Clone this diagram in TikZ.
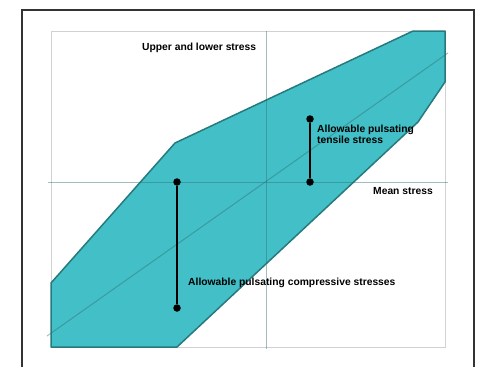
\documentclass[tikz,border=0pt]{standalone}
\usepackage{fontspec}
\setmainfont{Liberation Sans}
\usepackage{xcolor}
\usepackage{tikz}

\definecolor{bandfill}{RGB}{67,191,199}
\definecolor{bandline}{RGB}{38,122,125}
\definecolor{axisline}{RGB}{47,111,112}

\tikzset{
  lbl/.style={font=\bfseries\fontsize{10.3}{12}\selectfont, anchor=base west, inner sep=0pt},
  dot/.style={circle, fill=black, inner sep=0pt, minimum size=7.5pt},
  bar/.style={black, line width=2.4pt},
  axis/.style={axisline, opacity=0.45, line width=1pt},
}

\begin{document}
\begin{tikzpicture}[x=1pt,y=-1pt]
                \useasboundingbox (0,0) rectangle (489,367);
                \draw[black!80, line width=1.2pt] (22,367) -- (22,10) -- (474,10) -- (474,367);
                \draw[black!18, line width=1pt] (51,31) rectangle (445,347);
                \draw[fill=bandfill, draw=bandline, line width=1.5pt, line join=round]
                (51,347) -- (177,347) -- (418,122) -- (445,82) -- (445,31)
                -- (413,31) -- (175,143) -- (51,283) -- cycle;
                \draw[axis] (48,182) -- (448,182);
                \draw[axis] (266,31) -- (266,349);
                \draw[axis] (47,336) -- (448,53);
                \node[dot] (ctop) at (177,182) {};
                \node[dot] (cbot) at (177,308) {};
                \node[dot] (ttop) at (310,119) {};
                \node[dot] (tbot) at (310,182) {};
                \draw[bar] (ctop) -- (cbot);
                \draw[bar] (ttop) -- (tbot);
                \node[lbl] (upper) at (142,50) {Upper and lower stress};
                \node[lbl] (mean) at (373,194) {Mean stress};
                \node[lbl] (tens1) at (317,132.5) {Allowable pulsating};
                \node[lbl] (tens2) at (317,143.5) {tensile stress};
                \node[lbl] (comp) at (188,285) {Allowable pulsating compressive stresses};
            \end{tikzpicture}
\end{document}
